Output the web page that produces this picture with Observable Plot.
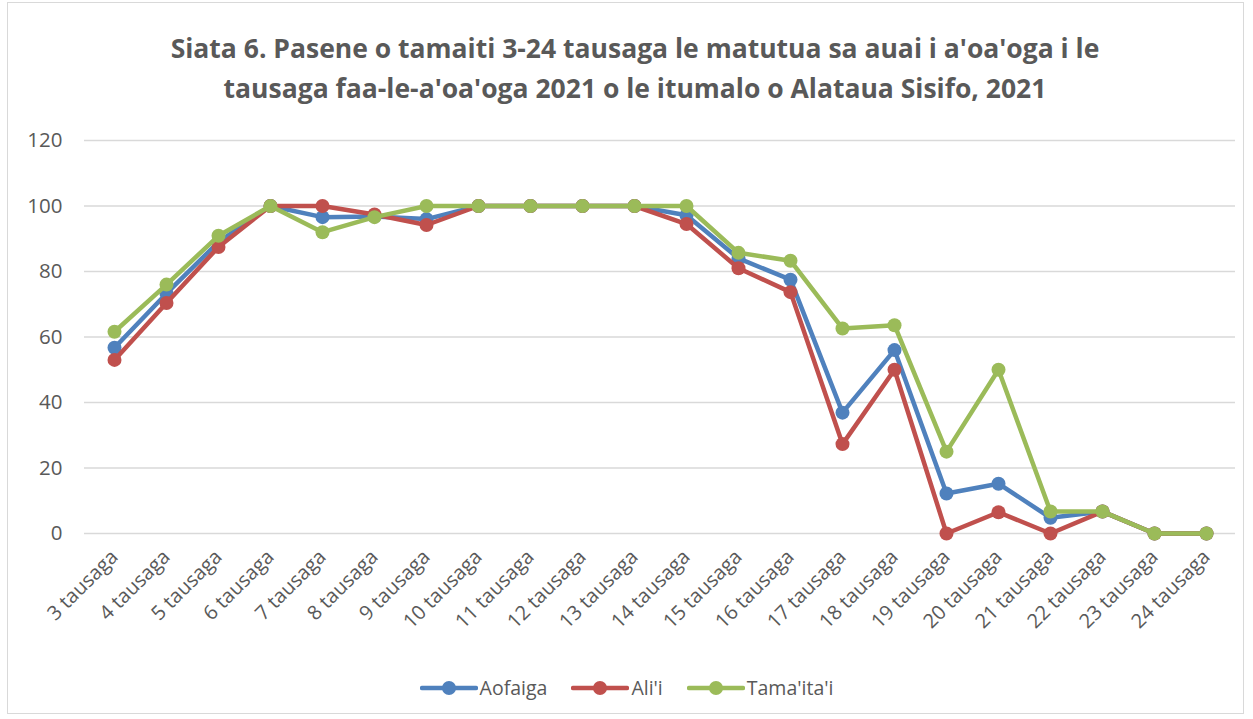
<!DOCTYPE html>
<html><head><meta charset="utf-8">
<script src="https://cdn.jsdelivr.net/npm/d3@7"></script>
<script src="https://cdn.jsdelivr.net/npm/@observablehq/plot@0.6"></script>
<style>
body{margin:0;background:#fff;font-family:"Open Sans",Lato,sans-serif;}
#wrap{position:relative;width:1253px;height:719px;overflow:hidden;}
#frame{position:absolute;left:7px;top:2px;width:1237px;height:712px;border:1px solid #d9d9d9;box-sizing:border-box;pointer-events:none;}
#title{position:absolute;left:0;top:28px;width:1270px;text-align:center;font-weight:bold;font-size:26.5px;line-height:40px;color:#595959;}
#chart{position:absolute;left:0;top:0;}
#legend{position:absolute;left:0;top:674px;width:1253px;display:flex;justify-content:center;gap:24px;font-size:19.5px;color:#595959;}
.item{display:flex;align-items:center;}
.item svg{margin-right:2px;}
</style></head><body>
<div id="wrap">
<div id="chart"></div>
<div id="title">Siata 6. Pasene o tamaiti 3-24 tausaga le matutua sa auai i a'oa'oga i le<br>tausaga faa-le-a'oa'oga 2021 o le itumalo o Alataua Sisifo, 2021</div>
<div id="legend"></div>
<div id="frame"></div>
</div>
<script>
const categories = ["3 tausaga","4 tausaga","5 tausaga","6 tausaga","7 tausaga","8 tausaga","9 tausaga","10 tausaga","11 tausaga","12 tausaga","13 tausaga","14 tausaga","15 tausaga","16 tausaga","17 tausaga","18 tausaga","19 tausaga","20 tausaga","21 tausaga","22 tausaga","23 tausaga","24 tausaga"];
const aofaiga   = [56.7, 73.3, 89.0, 100, 96.6, 96.8, 96.0, 100, 100, 100, 100, 97.2, 84.0, 77.5, 36.9, 56.0, 12.2, 15.2, 4.8, 6.7, 0, 0];
const alii      = [53.0, 70.4, 87.5, 100, 100, 97.4, 94.2, 100, 100, 100, 100, 94.5, 81.0, 73.7, 27.3, 50.0, 0, 6.5, 0, 6.7, 0, 0];
const tamaitai  = [61.6, 76.0, 90.9, 100, 92.0, 96.6, 100, 100, 100, 100, 100, 100, 85.7, 83.3, 62.6, 63.6, 25.0, 50.0, 6.7, 6.7, 0, 0];
const seriesNames = ["Aofaiga","Ali'i","Tama'ita'i"];
const colors = ["#4F81BD","#C0504D","#9BBB59"];
const yTicks = [0,20,40,60,80,100,120];

const seriesVals = [aofaiga, alii, tamaitai];
const rows = s => categories.map((c,i)=>({cat:c, v:seriesVals[s][i]}));

const marks = [Plot.gridY(yTicks, {stroke:"#d9d9d9", strokeOpacity:1, strokeWidth:1.3})];
seriesVals.forEach((_,s)=>{
  marks.push(Plot.line(rows(s), {x:"cat", y:"v", stroke:colors[s], strokeWidth:4.5, strokeLinejoin:"round"}));
  marks.push(Plot.dot(rows(s), {x:"cat", y:"v", fill:colors[s], r:7}));
});
marks.push(Plot.axisY(yTicks, {tickSize:0, tickPadding:22, fontSize:20.5, color:"#595959", label:null}));
marks.push(Plot.axisX({tickSize:0, tickRotate:-45, tickPadding:20, fontSize:20, color:"#595959", label:null}));

const plot = Plot.plot({
  width:1253, height:719,
  marginLeft:84, marginRight:18, marginTop:140, marginBottom:186,
  style:{fontFamily:"'Open Sans', Lato, sans-serif", background:"transparent", color:"#595959"},
  x:{type:"point", domain:categories, padding:0.5},
  y:{domain:[0,120]},
  marks
});
document.getElementById("chart").appendChild(plot);

const leg = document.getElementById("legend");
seriesNames.forEach((n,i)=>{
  const d = document.createElement("div"); d.className="item";
  d.innerHTML = `<svg width="58" height="20"><line x1="2" y1="10" x2="56" y2="10" stroke="${colors[i]}" stroke-width="4.5" stroke-linecap="round"/><circle cx="29" cy="10" r="7" fill="${colors[i]}"/></svg><span>${n}</span>`;
  leg.appendChild(d);
});
</script>
</body></html>
